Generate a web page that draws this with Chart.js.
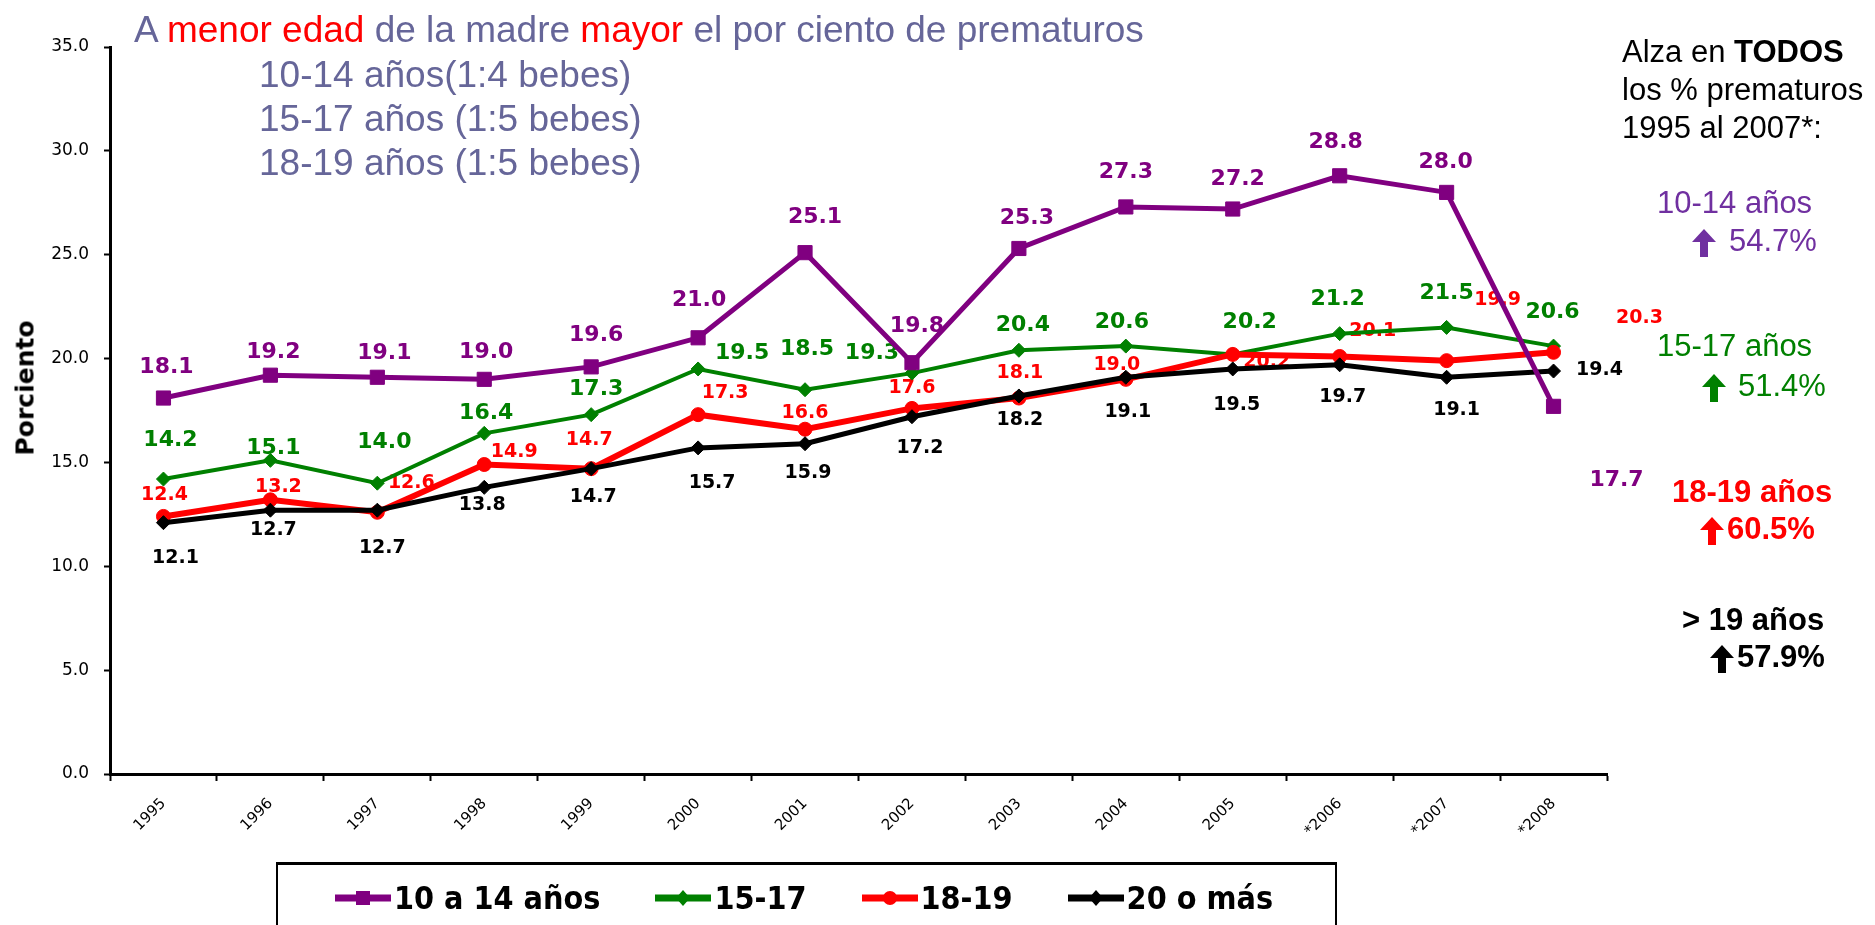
<!DOCTYPE html>
<html>
<head>
<meta charset="utf-8">
<script src="https://cdn.jsdelivr.net/npm/chart.js@4.4.1/dist/chart.umd.min.js"></script>
<style>
  html, body { margin: 0; padding: 0; background: #fff; }
  #wrap { position: relative; width: 1875px; height: 925px; overflow: hidden; }
  #chart { position: absolute; left: 0; top: 0; }
  .txt { position: absolute; white-space: nowrap; font-family: "Liberation Sans", Arial, sans-serif; line-height: 1; }
  .head { font-size: 37px; color: #666699; }
  .note { font-size: 31px; }
  .arrow { position: absolute; }
  #ytitle {
    position: absolute; left: 25px; top: 388px; transform: translate(-50%, -50%) rotate(-90deg);
    font-family: "DejaVu Sans", Verdana, sans-serif; font-weight: bold; font-size: 25px; color: #000;
    white-space: nowrap; line-height: 1;
  }
  #legend {
    position: absolute; left: 276px; top: 862px; width: 1000px;
    border-top: 3px solid #000; border-left: 2px solid #000; border-right: 2px solid #000;
    display: flex; align-items: center; height: 66px; padding-left: 57px; box-sizing: content-box;
  }
  .item { display: flex; align-items: center; margin-right: 55px; }
  .item span {
    font-family: "DejaVu Sans Condensed", "DejaVu Sans", Verdana, sans-serif; font-stretch: condensed;
    font-weight: bold; font-size: 32px; color: #000; margin-left: 3px;
  }
</style>
</head>
<body>
<div id="wrap">
  <canvas id="chart" width="1875" height="925"></canvas>

  <div id="ytitle">Porciento</div>

  <div class="txt head" style="left:134px; top:11px;">A <span style="color:#ff0000">menor edad</span> de la madre <span style="color:#ff0000">mayor</span> el por ciento de prematuros</div>
  <div class="txt head" style="left:259px; top:56px;">10-14 años(1:4 bebes)</div>
  <div class="txt head" style="left:259px; top:100px;">15-17 años (1:5 bebes)</div>
  <div class="txt head" style="left:259px; top:144px;">18-19 años (1:5 bebes)</div>

  <div class="txt note" style="left:1622px; top:36px;">Alza en <b>TODOS</b></div>
  <div class="txt note" style="left:1622px; top:74px;">los % prematuros</div>
  <div class="txt note" style="left:1622px; top:112px;">1995 al 2007*:</div>

  <div class="txt note" style="left:1657px; top:187px; color:#7030a0;">10-14 años</div>
  <svg class="arrow" style="left:1692px; top:229px;" width="24" height="28" viewBox="0 0 24 28"><polygon points="12,0 24,13 16,13 16,28 8,28 8,13 0,13" fill="#7030a0"/></svg>
  <div class="txt note" style="left:1729px; top:225px; color:#7030a0;">54.7%</div>

  <div class="txt note" style="left:1657px; top:330px; color:#008000;">15-17 años</div>
  <svg class="arrow" style="left:1702px; top:374px;" width="24" height="28" viewBox="0 0 24 28"><polygon points="12,0 24,13 16,13 16,28 8,28 8,13 0,13" fill="#008000"/></svg>
  <div class="txt note" style="left:1738px; top:370px; color:#008000;">51.4%</div>

  <div class="txt note" style="left:1672px; top:476px; color:#ff0000; font-weight:bold;">18-19 años</div>
  <svg class="arrow" style="left:1700px; top:517px;" width="24" height="28" viewBox="0 0 24 28"><polygon points="12,0 24,13 16,13 16,28 8,28 8,13 0,13" fill="#ff0000"/></svg>
  <div class="txt note" style="left:1727px; top:513px; color:#ff0000; font-weight:bold;">60.5%</div>

  <div class="txt note" style="left:1682px; top:604px; color:#000; font-weight:bold;">&gt; 19 años</div>
  <svg class="arrow" style="left:1710px; top:645px;" width="24" height="28" viewBox="0 0 24 28"><polygon points="12,0 24,13 16,13 16,28 8,28 8,13 0,13" fill="#000"/></svg>
  <div class="txt note" style="left:1737px; top:641px; color:#000; font-weight:bold;">57.9%</div>

  <div id="legend"></div>
</div>

<script>
// categories
const years = ['1995', '1996', '1997', '1998', '1999', '2000', '2001', '2002', '2003', '2004', '2005', '*2006', '*2007', '*2008'];

// series (percent premature, by mother's age)
const seriesNames = ['10 a 14 años', '15-17', '18-19', '20 o más'];
const age10to14 = [18.1, 19.2, 19.1, 19.0, 19.6, 21.0, 25.1, 19.8, 25.3, 27.3, 27.2, 28.8, 28.0, 17.7];
const age15to17 = [14.2, 15.1, 14.0, 16.4, 17.3, 19.5, 18.5, 19.3, 20.4, 20.6, 20.2, 21.2, 21.5, 20.6];
const age18to19 = [12.4, 13.2, 12.6, 14.9, 14.7, 17.3, 16.6, 17.6, 18.1, 19.0, 20.2, 20.1, 19.9, 20.3];
const age20plus = [12.1, 12.7, 12.7, 13.8, 14.7, 15.7, 15.9, 17.2, 18.2, 19.1, 19.5, 19.7, 19.1, 19.4];

// y axis range
const yMin = 0;
const yMax = 35;
const yStep = 5;

// styling per series
const colors = ['#800080', '#008000', '#ff0000', '#000000'];
const pointStyles = ['rect', 'rectRot', 'circle', 'rectRot'];

// data label placement (pixel offsets from each point), as in the original slide
const labelOffsets = [
    [[3,-31],[3,-23],[7,-24],[2,-27],[5,-32],[1,-38],[10,-35],[5,-36],[8,-30],[0,-35],[5,-30],[-4,-34],[-1,-30],[63,74]],
    [[7,-39],[3,-12],[7,-41],[2,-20],[5,-25],[44,-16],[2,-40],[-40,-20],[4,-25],[-4,-24],[17,-32],[-2,-34],[0,-34],[-1,-34]],
    [[1,-21],[8,-13],[34,-29],[30,-12],[-2,-29],[27,-22],[0,-16],[0,-20],[1,-25],[-9,-14],[34,8],[33,-25],[51,-61],[86,-34]],
    [[12,35],[3,20],[5,38],[-2,18],[2,28],[14,35],[3,29],[8,31],[1,24],[2,35],[4,36],[3,32],[10,33],[46,-1]]
];
const labelFonts = [
    'bold 22px "DejaVu Sans"',
    'bold 22px "DejaVu Sans"',
    'bold 19px "DejaVu Sans"',
    'bold 19px "DejaVu Sans"'
];

// labels go under the lines, like in the slide
const pointLabels = {
    id: 'pointLabels',
    beforeDatasetsDraw(chart) {
        const ctx = chart.ctx;
        chart.data.datasets.forEach((ds, di) => {
            const meta = chart.getDatasetMeta(di);
            ctx.save();
            ctx.font = labelFonts[di];
            ctx.fillStyle = colors[di];
            ctx.textAlign = 'center';
            ctx.textBaseline = 'middle';
            meta.data.forEach((pt, i) => {
                const off = labelOffsets[di][i];
                ctx.fillText(ds.data[i].toFixed(1), pt.x + off[0], pt.y + off[1]);
            });
            ctx.restore();
        });
    }
};

const allSeries = [age10to14, age15to17, age18to19, age20plus];
const lineWidths = [5, 4, 6, 5];
const radii = [10, 7, 7, 7];
const drawOrder = [0, 3, 2, 1];

const datasets = allSeries.map((vals, i) => ({
    label: seriesNames[i],
    data: vals,
    borderColor: colors[i],
    backgroundColor: colors[i],
    borderWidth: lineWidths[i],
    pointStyle: pointStyles[i],
    pointRadius: radii[i],
    pointBorderWidth: 1,
    pointBackgroundColor: colors[i],
    pointBorderColor: colors[i],
    tension: 0,
    order: drawOrder[i]
}));

const ctx = document.getElementById('chart').getContext('2d');
new Chart(ctx, {
    type: 'line',
    data: { labels: years, datasets: datasets },
    options: {
        responsive: false,
        animation: false,
        layout: { padding: { left: 0, right: 268, top: 47, bottom: 0 } },
        plugins: {
            legend: { display: false },
            tooltip: { enabled: false }
        },
        scales: {
            x: {
                offset: true,
                afterFit: s => { s.height = 151; },
                grid: { display: true, drawOnChartArea: false, drawTicks: true, tickLength: 7, tickWidth: 2, tickColor: '#000', offset: true },
                border: { display: true, width: 3, color: '#000' },
                ticks: {
                    autoSkip: false, maxRotation: 45, minRotation: 45, padding: 14,
                    color: '#000', font: { family: 'DejaVu Sans', size: 15 }
                }
            },
            y: {
                min: yMin, max: yMax,
                afterFit: s => { s.width = 110; },
                grid: { display: true, drawOnChartArea: false, drawTicks: true, tickLength: 6, tickWidth: 2, tickColor: '#000' },
                border: { display: true, width: 3, color: '#000' },
                ticks: {
                    stepSize: yStep, padding: 15, color: '#000',
                    font: { family: 'DejaVu Sans', size: 17 },
                    callback: v => v.toFixed(1)
                }
            }
        }
    },
    plugins: [pointLabels]
});

// legend box below the chart, Excel style (line with marker)
function markerSvg(i) {
    const c = colors[i];
    let mark = '';
    if (pointStyles[i] === 'rect') mark = `<rect x="21" y="1" width="14" height="14" fill="${c}"/>`;
    else if (pointStyles[i] === 'circle') mark = `<circle cx="28" cy="8" r="7" fill="${c}"/>`;
    else mark = `<polygon points="28,0 35,8 28,16 21,8" fill="${c}"/>`;
    return `<svg width="56" height="16" viewBox="0 0 56 16"><line x1="0" y1="8" x2="56" y2="8" stroke="${c}" stroke-width="7" stroke-linecap="round"/>${mark}</svg>`;
}
const legend = document.getElementById('legend');
seriesNames.forEach((name, i) => {
    const item = document.createElement('div');
    item.className = 'item';
    item.innerHTML = markerSvg(i) + `<span>${name}</span>`;
    legend.appendChild(item);
});
</script>
</body>
</html>
